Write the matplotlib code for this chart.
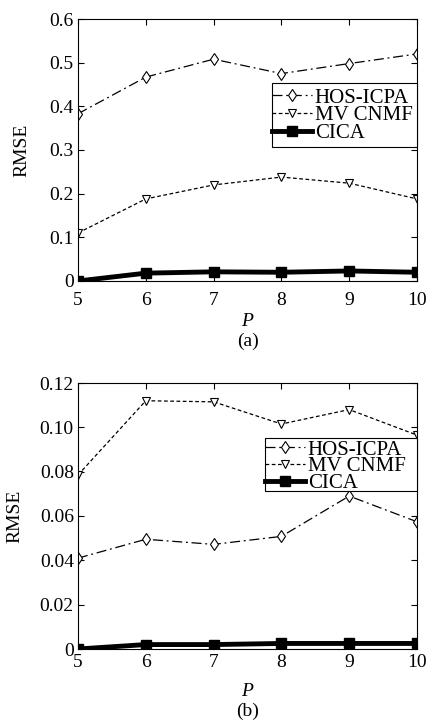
import matplotlib
matplotlib.use("Agg")
import matplotlib.pyplot as plt
from matplotlib.patches import Rectangle

P = [5, 6, 7, 8, 9, 10]

# panel (a)
hos_a = [0.383, 0.467, 0.508, 0.475, 0.498, 0.520]
mv_a = [0.110, 0.188, 0.220, 0.238, 0.224, 0.188]
cica_a = [0.000, 0.018, 0.021, 0.020, 0.023, 0.020]

# panel (b)
hos_b = [0.0410, 0.0495, 0.0472, 0.0508, 0.0690, 0.0574]
mv_b = [0.0785, 0.1120, 0.1115, 0.1015, 0.1080, 0.0965]
cica_b = [0.0000, 0.0020, 0.0020, 0.0025, 0.0025, 0.0025]

plt.rcParams.update({"font.family": "Liberation Serif", "font.size": 14,
                     "mathtext.fontset": "custom", "mathtext.it": "Liberation Serif:italic"})

W, H = 426, 722
fig = plt.figure(figsize=(W / 100, H / 100), dpi=100)


def px_axes(x0, y0, x1, y1):
    # pixel box (top-left origin) -> figure fraction
    return [x0 / W, 1 - y1 / H, (x1 - x0) / W, (y1 - y0) / H]


ax_a = fig.add_axes(px_axes(78, 19, 417, 281))
ax_b = fig.add_axes(px_axes(78, 383, 417, 649))


def draw(ax, hos, mv, cica, ylim, yticks, yfmt, xpad, xlab_y, ylab_x, leg_box, leg_top, lsp):
    ax.plot(P, hos, color="black", ls=(0, (8, 3, 1.5, 3)), lw=0.9, marker="d",
            mfc="white", mec="black", ms=6, mew=0.8, label="HOS-ICPA")
    ax.plot(P, mv, color="black", ls=(0, (3, 2)), lw=0.9, marker="v",
            mfc="white", mec="black", ms=6, mew=0.8, label="MV CNMF")
    ax.plot(P, cica, color="black", ls="-", lw=3.5, marker="s",
            mfc="black", mec="black", ms=7.5, label="CICA")
    ax.set_xlim(5, 10)
    ax.set_ylim(*ylim)
    ax.set_xticks(P)
    ax.set_yticks(yticks)
    ax.set_yticklabels([yfmt.format(v) if v != 0 else "0" for v in yticks])
    ax.tick_params(direction="in", top=True, right=True, length=4, width=0.8, pad=3)
    ax.tick_params(axis="x", pad=xpad)
    for s in ax.spines.values():
        s.set_linewidth(0.8)
    ax.set_ylabel("RMSE")
    ax.yaxis.set_label_coords(ylab_x, 0.5)
    ax.set_xlabel("$P$")
    ax.xaxis.set_label_coords(0.5, xlab_y)
    # legend frame as a white box in pixel coordinates
    x0, y0, x1, y1 = leg_box
    ax.add_patch(Rectangle((x0 / W, 1 - y1 / H), (x1 - x0) / W, (y1 - y0) / H,
                           transform=fig.transFigure, facecolor="white",
                           edgecolor="black", lw=0.8, zorder=4, clip_on=False))
    leg = ax.legend(loc="upper left", bbox_to_anchor=(x0 / W, 1 - leg_top / H),
                    bbox_transform=fig.transFigure, frameon=False,
                    borderpad=0, labelspacing=lsp, handlelength=1.9,
                    handletextpad=0.15, borderaxespad=0, fontsize=15)
    leg.set_zorder(6)


draw(ax_a, hos_a, mv_a, cica_a, (0, 0.6), [0, 0.1, 0.2, 0.3, 0.4, 0.5, 0.6],
     "{:.1f}", 8, -0.122, -0.141, (272, 83, 417, 147), 88, -0.09)
draw(ax_b, hos_b, mv_b, cica_b, (0, 0.12), [0, 0.02, 0.04, 0.06, 0.08, 0.10, 0.12],
     "{:.2f}", 3.5, -0.128, -0.162, (265, 438, 417, 491), 440, -0.14)

fig.text(0.5 * (78 + 417) / W, 1 - 333 / H, "(a)", ha="center", va="top")
fig.text(0.5 * (78 + 417) / W, 1 - 703 / H, "(b)", ha="center", va="top")

fig.savefig("out.png", dpi=100)
